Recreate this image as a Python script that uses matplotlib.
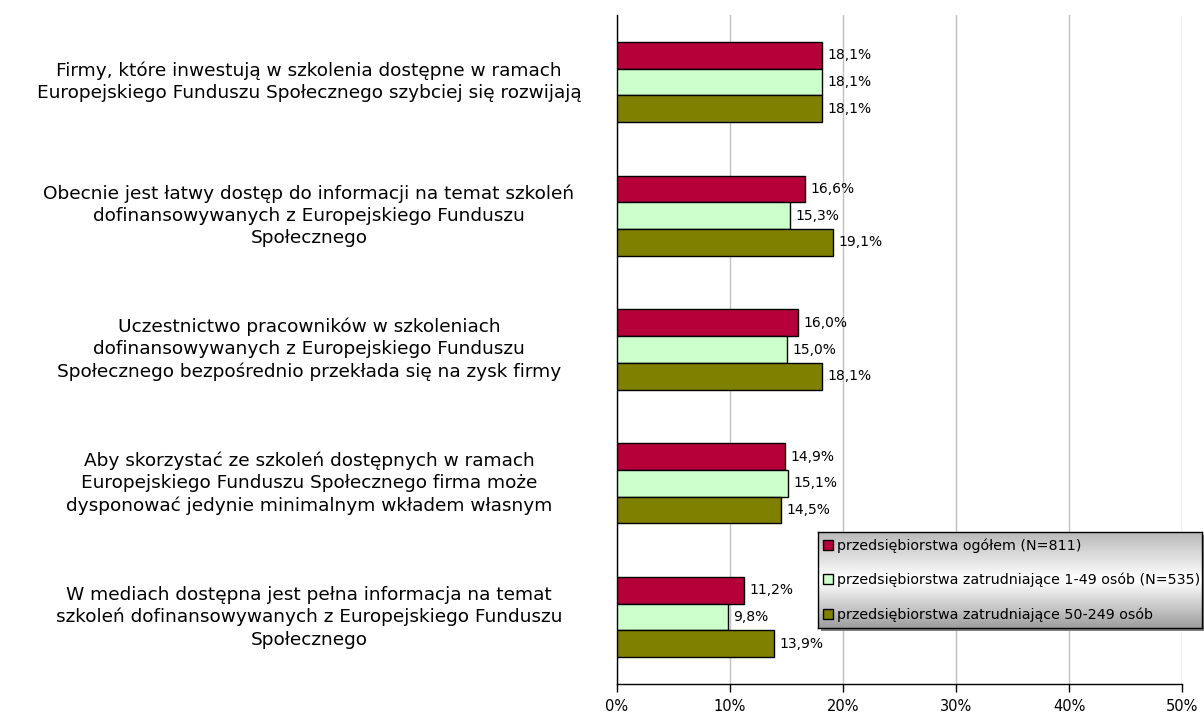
import numpy as np
import matplotlib.pyplot as plt
import matplotlib.transforms as mtrans
from matplotlib.patches import Rectangle

# data
categories = [
    "Firmy, które inwestują w szkolenia dostępne w ramach\nEuropejskiego Funduszu Społecznego szybciej się rozwijają",
    "Obecnie jest łatwy dostęp do informacji na temat szkoleń\ndofinansowywanych z Europejskiego Funduszu\nSpołecznego",
    "Uczestnictwo pracowników w szkoleniach\ndofinansowywanych z Europejskiego Funduszu\nSpołecznego bezpośrednio przekłada się na zysk firmy",
    "Aby skorzystać ze szkoleń dostępnych w ramach\nEuropejskiego Funduszu Społecznego firma może\ndysponować jedynie minimalnym wkładem własnym",
    "W mediach dostępna jest pełna informacja na temat\nszkoleń dofinansowywanych z Europejskiego Funduszu\nSpołecznego",
]
ogolem = [18.1, 16.6, 16.0, 14.9, 11.2]
male = [18.1, 15.3, 15.0, 15.1, 9.8]
duze = [18.1, 19.1, 18.1, 14.5, 13.9]
series_names = [
    "przedsiębiorstwa ogółem (N=811)",
    "przedsiębiorstwa zatrudniające 1-49 osób (N=535)",
    "przedsiębiorstwa zatrudniające 50-249 osób",
]
colors = ["#B5003A", "#CCFFCC", "#808000"]
xticks = [0, 10, 20, 30, 40, 50]

plt.rcParams['font.family'] = ['DejaVu Sans']

fig = plt.figure(figsize=(12.04, 7.15), dpi=100)
ax = fig.add_axes([617/1204, 1-684/715, (1182-617)/1204, (684-15)/715])

n = len(categories)
y = np.arange(n)  # 0 at top after inversion
h = 0.2
offs = [-h, 0, h]
handles = []
for vals, off, c, name in zip([ogolem, male, duze], offs, colors, series_names):
    b = ax.barh(y + off, vals, height=h, color=c, edgecolor='black', linewidth=1, zorder=3, label=name)
    handles.append(b)
    for yy, v in zip(y + off, vals):
        ax.annotate(("%.1f%%" % v).replace('.', ','), (v, yy), xytext=(4, 0), textcoords='offset points',
                    va='center', ha='left', fontsize=10, zorder=4)

ax.set_xlim(0, 50)
ax.set_ylim(n - 0.5, -0.5)
ax.set_xticks(xticks)
ax.set_xticklabels(["%d%%" % t for t in xticks], fontsize=10.5)
ax.set_yticks([])
ax.xaxis.grid(True, color='#c0c0c0', linewidth=1, zorder=0)
ax.set_axisbelow(True)
for s in ['top', 'right']:
    ax.spines[s].set_visible(False)
ax.spines['left'].set_linewidth(1)
ax.spines['bottom'].set_linewidth(1)
ax.tick_params(axis='x', length=6, width=1, direction='out', pad=5)

trans = mtrans.blended_transform_factory(fig.transFigure, ax.transData)
for yy, lab in zip(y, categories):
    ax.text(309/1204, yy, lab, transform=trans, ha='center', va='center',
            multialignment='center', fontsize=13.3, linespacing=1.3)

# legend with gradient box
lx, ly, lw, lh = 818/1204, 1-628/715, 384/1204, 96/715
shadow = Rectangle((lx + 3/1204, ly - 3/715), lw, lh, transform=fig.transFigure,
                   facecolor='#808080', edgecolor='none', zorder=5)
fig.patches.append(shadow)
lax = fig.add_axes([lx, ly, lw, lh], zorder=6)
grad = np.concatenate([np.linspace(0.72, 1.0, 50), np.linspace(1.0, 0.62, 50)])
lax.imshow(np.tile(grad[:, None], (1, 10)), cmap='gray', vmin=0, vmax=1,
           aspect='auto', extent=[0, 1, 0, 1])
lax.set_xticks([])
lax.set_yticks([])
for s in lax.spines.values():
    s.set_linewidth(1)
    s.set_color('black')
leg = lax.legend(handles, series_names, loc='center left', bbox_to_anchor=(-0.01, 0.5),
                 frameon=False, fontsize=10.3, handlelength=0.7, handleheight=0.7,
                 handletextpad=0.3, labelspacing=1.4, borderpad=0.1)

fig.savefig("out.png", dpi=100)
